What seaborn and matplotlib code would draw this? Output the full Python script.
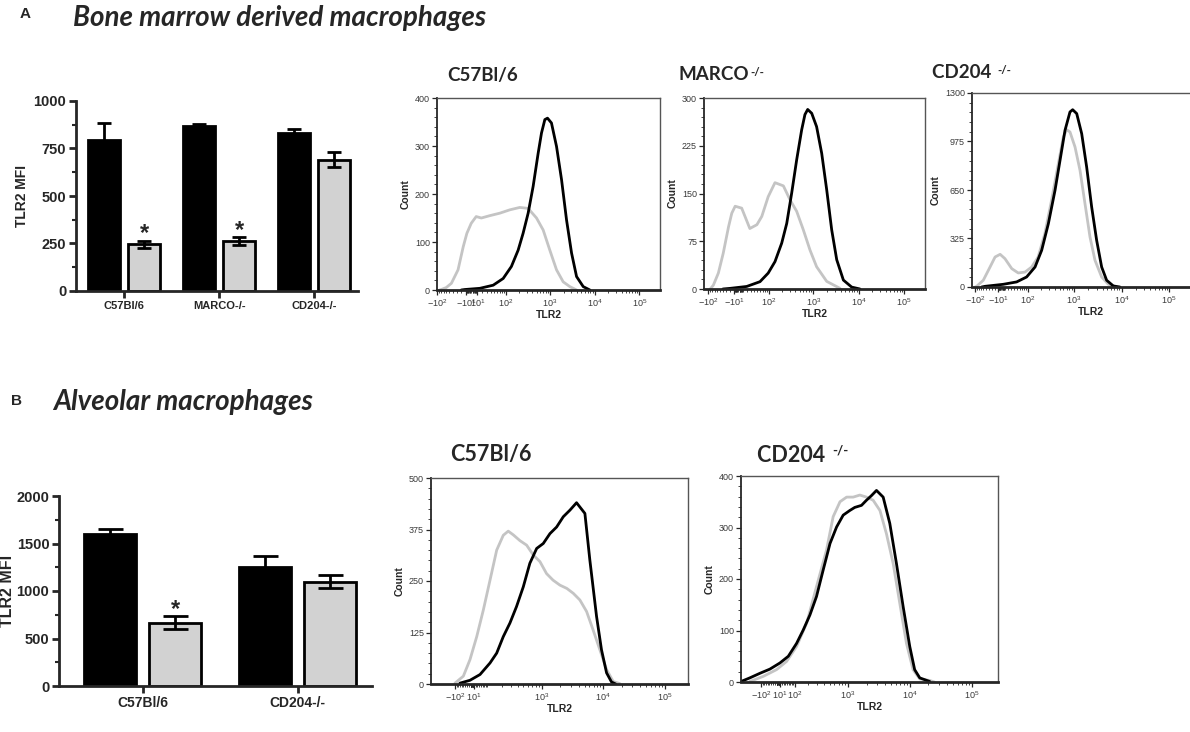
import numpy as np
import pandas as pd
import matplotlib
matplotlib.use("Agg")
import matplotlib.pyplot as plt
import seaborn as sns
from matplotlib.ticker import FixedLocator, AutoMinorLocator, MultipleLocator

# ---------------- bar chart data ----------------
conditions = ["control", "treated"]

bm_groups = ["C57Bl/6", "MARCO-/-", "CD204-/-"]
bm_control = [795, 870, 833]
bm_control_err = [90, 10, 18]
bm_treated = [245, 262, 692]
bm_treated_err = [20, 20, 40]
bm_significant = [True, True, False]

am_groups = ["C57Bl/6", "CD204-/-"]
am_control = [1595, 1250]
am_control_err = [58, 115]
am_treated = [665, 1100]
am_treated_err = [68, 72]
am_significant = [True, False]

# ---------------- histogram data (TLR2 fluorescence, count) ----------------
bm_c57_gray_x = [-89, -81, -61, -44, -27, -16, -9, -1, 8, 18, 38, 70, 122, 207, 320, 494, 697, 983, 1390, 1960, 2770, 3910]
bm_c57_gray_y = [0, 1, 5, 14, 42, 90, 118, 139, 153, 150, 155, 160, 167, 172, 170, 150, 125, 83, 42, 17, 7, 0]
bm_c57_black_x = [-20, -13, 15, 47, 85, 133, 190, 246, 320, 415, 538, 639, 760, 872, 1070, 1390, 1800, 2330, 3020, 3910, 5520, 7780]
bm_c57_black_y = [0, 1, 3.5, 10, 24, 49, 83, 118, 160, 216, 285, 327, 355, 358, 348, 299, 230, 146, 77, 28, 7, 0]

bm_marco_gray_x = [-90, -75, -55, -39, -24, -16, -8, 7, 27, 48, 66, 96, 139, 216, 305, 428, 600, 845, 1180, 1970, 3880]
bm_marco_gray_y = [0, 6, 25, 56, 98, 119, 130, 127, 95, 101, 114, 145, 167, 162, 140, 122, 93, 61, 35, 12, 1]
bm_marco_black_x = [-40, -20, 19, 59, 96, 139, 198, 257, 332, 428, 552, 652, 750, 920, 1180, 1530, 1970, 2540, 3280, 4600, 7010, 10700]
bm_marco_black_y = [0, 1, 4, 11.5, 25, 43, 72, 103, 151, 203, 250, 274, 282, 276, 255, 213, 156, 93, 46, 14, 3, 0]

bm_cd204_gray_x = [-99, -91, -60, -35, -19, -4, 10, 31, 54, 84, 122, 171, 240, 335, 466, 595, 699, 822, 1050, 1336, 1702, 2168, 2760, 3810, 5260, 7870]
bm_cd204_gray_y = [0, 4.5, 45, 134, 201, 219, 190, 123, 94, 100, 134, 201, 357, 581, 826, 1005, 1054, 1039, 938, 782, 558, 335, 179, 67, 18, 0]
bm_cd204_black_x = [-67, -53, 5, 48, 92, 146, 205, 286, 397, 507, 646, 822, 937, 1139, 1451, 1844, 2350, 2990, 3810, 4850, 6700, 9240]
bm_cd204_black_y = [0, 4.5, 18, 34, 67, 134, 246, 424, 648, 849, 1050, 1173, 1188, 1162, 1027, 804, 536, 313, 134, 45, 7, 0]

am_c57_gray_x = [-103, -50, -12, 26, 65, 108, 158, 217, 270, 333, 435, 565, 730, 940, 1205, 1540, 1990, 2580, 3290, 4200, 5400, 6900, 8870, 11400, 14600, 18700]
am_c57_gray_y = [2, 19, 59, 115, 180, 252, 325, 361, 371, 362, 348, 337, 313, 297, 268, 252, 240, 232, 220, 204, 176, 131, 83, 35, 6, 1]
am_c57_black_x = [-71, -12, 45, 108, 158, 217, 290, 380, 497, 640, 830, 1065, 1370, 1760, 2260, 2900, 3710, 5070, 6100, 7840, 9430, 11400, 13700, 16000]
am_c57_black_y = [2, 9, 23, 51, 75, 115, 148, 188, 236, 293, 329, 341, 365, 381, 406, 422, 440, 414, 301, 164, 83, 27, 5, 0]

am_cd204_gray_x = [-189, -87, -9, 48, 111, 190, 294, 440, 570, 740, 950, 1215, 1560, 2000, 2560, 3300, 4200, 5400, 6900, 8850, 11300, 14500, 21000, 25000]
am_cd204_gray_y = [1, 11, 24, 40, 69, 114, 185, 256, 321, 350, 359, 359, 363, 359, 353, 333, 288, 230, 153, 75, 24, 6, 3, 0]
am_cd204_black_x = [-279, -189, -109, -47, 10, 58, 111, 161, 221, 294, 385, 505, 650, 835, 1070, 1290, 1660, 2000, 2410, 2900, 3720, 4760, 6100, 7830, 10000, 12000, 14500, 21000]
am_cd204_black_y = [1, 8, 17, 25, 37, 50, 75, 101, 130, 166, 217, 269, 301, 324, 333, 339, 343, 353, 362, 372, 359, 308, 230, 146, 69, 24, 8, 1]

# ---------------- style ----------------
sns.set_style("ticks")
plt.rcParams["font.family"] = ["Liberation Sans", "DejaVu Sans"]
plt.rcParams["mathtext.fontset"] = "custom"
plt.rcParams["mathtext.rm"] = "Liberation Sans"
plt.rcParams["mathtext.it"] = "Liberation Sans:italic"
plt.rcParams["mathtext.bf"] = "Liberation Sans:bold"

BAR_COLORS = ["#000000", "#d2d2d2"]
GRAY_LINE = "#c4c4c4"
TITLE_FONT = ["Lato", "DejaVu Sans"]

fig = plt.figure(figsize=(11.9, 7.32), dpi=100)
W, H = 1190.0, 732.0


def px_axes(l, t, r, b):
    return fig.add_axes([l / W, 1 - b / H, (r - l) / W, (b - t) / H])


def bar_panel(ax, groups, ctrl, ctrl_err, trt, trt_err, sig, ymax, ystep, xlim,
              xfs, yfs, lfs, label_x, capsize):
    df = pd.DataFrame({
        "group": list(groups) * 2,
        "condition": [conditions[0]] * len(groups) + [conditions[1]] * len(groups),
        "mfi": list(ctrl) + list(trt),
    })
    sns.barplot(data=df, x="group", y="mfi", hue="condition", order=groups,
                hue_order=conditions, palette=BAR_COLORS, saturation=1,
                edgecolor="black", linewidth=2, width=0.84, gap=0.2,
                errorbar=None, legend=False, ax=ax)
    for cont, vals, errs in zip(ax.containers, [ctrl, trt], [ctrl_err, trt_err]):
        xs = [b.get_x() + b.get_width() / 2 for b in cont]
        ax.errorbar(xs, vals, yerr=errs, fmt="none", ecolor="black",
                    elinewidth=2, capsize=capsize, capthick=2, zorder=4)
    for b, s, v, e in zip(ax.containers[1], sig, trt, trt_err):
        if s:
            ax.annotate("*", xy=(b.get_x() + b.get_width() / 2, v + e),
                        xytext=(0, 0.5), textcoords="offset points",
                        ha="center", va="baseline", fontsize=17,
                        fontweight="bold")
    ax.set_ylim(0, ymax)
    ax.set_xlim(*xlim)
    ax.yaxis.set_major_locator(MultipleLocator(ystep))
    ax.yaxis.set_minor_locator(MultipleLocator(ystep / 2))
    for side in ["top", "right"]:
        ax.spines[side].set_visible(False)
    for side in ["left", "bottom"]:
        ax.spines[side].set_linewidth(2)
    ax.tick_params(which="major", width=2, length=5, direction="out")
    ax.tick_params(which="minor", width=1.5, length=3, direction="out")
    ax.tick_params(axis="x", which="minor", length=0)
    ax.set_xlabel("")
    ax.set_ylabel("TLR2 MFI", fontweight="bold", fontsize=lfs)
    ax.yaxis.set_label_coords(label_x, 0.5)
    for lab in ax.get_yticklabels():
        lab.set_fontweight("bold")
        lab.set_fontsize(yfs)
    for lab in ax.get_xticklabels():
        lab.set_fontweight("bold")
        lab.set_fontsize(xfs)
    ax.tick_params(axis="x", pad=2)
    ax.tick_params(axis="y", pad=2)


SUP = {1: "$10^{1}$", 2: "$10^{2}$", 3: "$10^{3}$", 4: "$10^{4}$", 5: "$10^{5}$"}


def hist_panel(ax, c, tleft, twidth, ymax, ystep, bx, by, gx, gy, xticks, xlabels):
    sns.lineplot(x=gx, y=gy, color=GRAY_LINE, linewidth=2, estimator=None,
                 sort=False, ax=ax)
    sns.lineplot(x=bx, y=by, color="black", linewidth=2, estimator=None,
                 sort=False, ax=ax)

    def fwd(x):
        return np.arcsinh(np.asarray(x, dtype=float) / c) / np.log(10)

    def inv(t):
        return c * np.sinh(np.asarray(t, dtype=float) * np.log(10))

    ax.set_xscale("function", functions=(fwd, inv))
    ax.set_xlim(float(inv(tleft)), float(inv(tleft + twidth)))
    ax.set_ylim(0, ymax)
    ax.xaxis.set_major_locator(FixedLocator(xticks))
    ax.set_xticklabels(xlabels)
    minor = [k * 10 ** d for d in range(1, 5) for k in range(2, 10)]
    minor += [-k * 10 for k in range(2, 10)] + [-k for k in range(2, 10)] + list(range(2, 10))
    ax.xaxis.set_minor_locator(FixedLocator(minor))
    ax.yaxis.set_major_locator(MultipleLocator(ystep))
    ax.yaxis.set_minor_locator(AutoMinorLocator(5))
    ax.spines["left"].set_linewidth(1.3)
    ax.spines["bottom"].set_linewidth(2)
    for side in ["top", "right"]:
        ax.spines[side].set_linewidth(1.0)
        ax.spines[side].set_color("#555555")
    ax.tick_params(which="major", length=3.5, width=0.9, labelsize=6.5,
                   labelcolor="#3a3a3a", pad=1.5, direction="out")
    ax.tick_params(which="minor", length=2, width=0.6, direction="out")
    ax.set_xlabel("TLR2", fontsize=7.5, fontweight="bold", labelpad=1)
    ax.set_ylabel("Count", fontsize=7.5, fontweight="bold", labelpad=3)


def ko_title(ax, x, y, name, size, sup=True):
    t = fig.text(x / W, 1 - y / H, name, fontsize=size, fontweight="bold",
                 family=TITLE_FONT, ha="left", va="center")
    if sup:
        ax.annotate("-/-", xy=(1, 1), xycoords=t, xytext=(1, 0),
                    textcoords="offset points", ha="left", va="top",
                    fontsize=size * 0.62, fontweight="bold",
                    family=TITLE_FONT, annotation_clip=False)
    return t


# ---------------- panel A ----------------
fig.text(25 / W, 1 - 14 / H, "A", fontsize=11, fontweight="bold", ha="center", va="center")
fig.text(73 / W, 1 - 18 / H, "Bone marrow derived macrophages", fontsize=20,
         fontweight="bold", fontstyle="italic", family=TITLE_FONT, ha="left", va="center")

ax_a = px_axes(76, 101, 358, 291)
bar_panel(ax_a, bm_groups, bm_control, bm_control_err, bm_treated, bm_treated_err,
          bm_significant, 1000, 250, (-0.505, 2.46), 8, 10.5, 10, -0.165, 5)

ax_a1 = px_axes(437, 98, 660, 290)
hist_panel(ax_a1, 35, -0.78, 5.0, 400, 100, bm_c57_black_x, bm_c57_black_y,
           bm_c57_gray_x, bm_c57_gray_y,
           [-100, -10, 10, 100, 1000, 1e4, 1e5],
           ["$-10^{2}$", "$-10^{1}$", SUP[1], SUP[2], SUP[3], SUP[4], SUP[5]])
ko_title(ax_a1, 447, 75, "C57Bl/6", 13.5, sup=False)

ax_a2 = px_axes(704, 98, 925, 289)
hist_panel(ax_a2, 45, -0.764, 4.875, 300, 75, bm_marco_black_x, bm_marco_black_y,
           bm_marco_gray_x, bm_marco_gray_y,
           [-100, -10, 100, 1000, 1e4, 1e5],
           ["$-10^{2}$", "$-10^{1}$", SUP[2], SUP[3], SUP[4], SUP[5]])
ko_title(ax_a2, 678, 75, "MARCO", 13.5)

ax_a3 = px_axes(972, 93, 1210, 287)
hist_panel(ax_a3, 60, -0.62, 5.0, 1300, 325, bm_cd204_black_x, bm_cd204_black_y,
           bm_cd204_gray_x, bm_cd204_gray_y,
           [-100, -10, 100, 1000, 1e4, 1e5],
           ["$-10^{2}$", "$-10^{1}$", SUP[2], SUP[3], SUP[4], SUP[5]])
ko_title(ax_a3, 932, 73, "CD204 ", 13.5)

# ---------------- panel B ----------------
fig.text(17 / W, 1 - 401 / H, "B", fontsize=11, fontweight="bold", ha="center", va="center")
fig.text(53 / W, 1 - 402 / H, "Alveolar macrophages", fontsize=20,
         fontweight="bold", fontstyle="italic", family=TITLE_FONT, ha="left", va="center")

ax_b = px_axes(59, 496, 372, 686)
bar_panel(ax_b, am_groups, am_control, am_control_err, am_treated, am_treated_err,
          am_significant, 2000, 500, (-0.54, 1.48), 10, 10.5, 11.5, -0.142, 9)

ax_b1 = px_axes(431, 478, 688, 684)
hist_panel(ax_b1, 150, -0.667, 4.17, 500, 125, am_c57_black_x, am_c57_black_y,
           am_c57_gray_x, am_c57_gray_y,
           [-100, 10, 1000, 1e4, 1e5],
           ["$-10^{2}$", SUP[1], SUP[3], SUP[4], SUP[5]])
ko_title(ax_b1, 450, 455, "C57Bl/6", 15.5, sup=False)

ax_b2 = px_axes(741, 476, 998, 682)
hist_panel(ax_b2, 150, -0.60, 4.15, 400, 100, am_cd204_black_x, am_cd204_black_y,
           am_cd204_gray_x, am_cd204_gray_y,
           [-100, 10, 100, 1000, 1e4, 1e5],
           ["$-10^{2}$", SUP[1], SUP[2], SUP[3], SUP[4], SUP[5]])
ko_title(ax_b2, 757, 455, "CD204 ", 15.5)

fig.savefig("out.png", dpi=100)
